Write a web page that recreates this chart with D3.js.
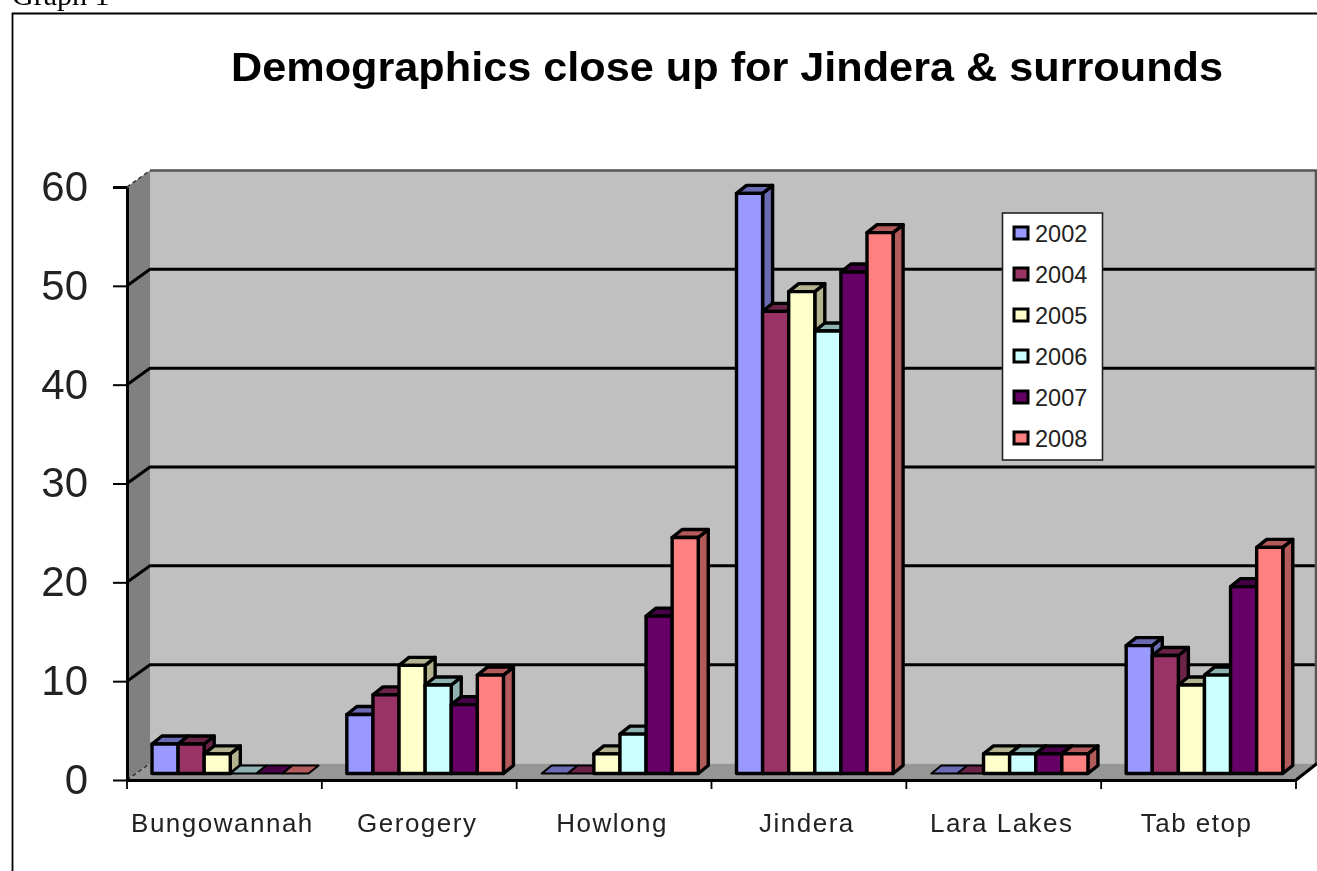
<!DOCTYPE html>
<html>
<head>
<meta charset="utf-8">
<style>
  html, body { margin: 0; padding: 0; background: #fff; overflow: hidden; }
  svg { display: block; font-family: "Liberation Sans", Arial, sans-serif; filter: blur(0.5px); }
</style>
</head>
<body>
<svg id="chart" width="1317" height="871"></svg>
<script src="https://cdn.jsdelivr.net/npm/d3@7"></script>
<script>
const categories = ["Bungowannah", "Gerogery", "Howlong", "Jindera", "Lara Lakes", "Tab etop"];
const years = ["2002", "2004", "2005", "2006", "2007", "2008"];
const colors = ["#9999ff", "#993366", "#ffffcc", "#ccffff", "#660066", "#ff8080"];
const yTicks = [0, 10, 20, 30, 40, 50, 60];

const values2002 = [3, 6, 0, 59, 0, 13];
const values2004 = [3, 8, 0, 47, 0, 12];
const values2005 = [2, 11, 2, 49, 2, 9];
const values2006 = [0, 9, 4, 45, 2, 10];
const values2007 = [0, 7, 16, 51, 2, 19];
const values2008 = [0, 10, 24, 55, 2, 23];
const seriesValues = [values2002, values2004, values2005, values2006, values2007, values2008];

const svg = d3.select("#chart");

// front plane of the 3d box, the back wall is shifted by wallDx/wallDy
const wallDx = 23, wallDy = -16.5;
const barDx = 10, barDy = -8;
const barBase = 773.5;

const x = d3.scaleBand().domain(categories).range([127, 1296]);
const y = d3.scaleLinear().domain([0, 60]).range([780, 187]);
const barH = d3.scaleLinear().domain([0, 60]).range([0, 590]);
const inner = d3.scaleBand().domain(years).range([25, 25 + 6 * 26.1]);

const outline = (sel) => sel.attr("stroke", "#000").attr("stroke-width", 3.4).attr("stroke-linejoin", "round");
const poly = (pts) => "M" + pts.map((p) => p.join(",")).join("L") + "Z";

// chart frame (only left and top show, the rest is cropped) and the caption above it
svg.append("text")
  .attr("x", 12).attr("y", 5)
  .attr("font-family", "'Liberation Serif', serif")
  .attr("font-size", 30)
  .text("Graph 1");
svg.append("path")
  .attr("fill", "none").attr("stroke", "#000").attr("stroke-width", 1.8)
  .attr("d", "M12.5,871V13.5H1317");

svg.append("text")
  .attr("x", 231).attr("y", 81)
  .attr("font-weight", "bold")
  .attr("font-size", 40)
  .attr("textLength", 992)
  .attr("lengthAdjust", "spacingAndGlyphs")
  .attr("fill", "#000")
  .text("Demographics close up for Jindera & surrounds");

// walls
const y0 = y(0), yTop = y(60);
svg.append("path")
  .attr("fill", "#c0c0c0")
  .attr("d", poly([[127 + wallDx, yTop + wallDy], [1316, yTop + wallDy], [1316, y0 + wallDy], [127 + wallDx, y0 + wallDy]]));
svg.append("path")
  .attr("fill", "#808080")
  .attr("d", poly([[127, yTop], [127 + wallDx, yTop + wallDy], [127 + wallDx, y0 + wallDy], [127, y0]]));
svg.append("path")
  .attr("fill", "#969696")
  .attr("d", poly([[127, y0], [127 + wallDx, y0 + wallDy], [1317, y0 + wallDy], [1296, y0]]));

// gridlines run over the left wall and along the back wall
svg.append("g").selectAll("path")
  .data(yTicks.filter((d) => d > 0 && d < 60))
  .join("path")
  .attr("fill", "none")
  .attr("stroke", "#000")
  .attr("stroke-width", 3)
  .attr("d", (d) => `M127,${y(d)}L${127 + wallDx},${y(d) + wallDy}L1317,${y(d) + wallDy}`);
svg.append("path")
  .attr("fill", "none").attr("stroke", "#555").attr("stroke-width", 2.5)
  .attr("d", `M${127 + wallDx},${yTop + wallDy}H1316V${y0 + wallDy}`);
svg.append("path")
  .attr("fill", "none").attr("stroke", "#333").attr("stroke-width", 1.5).attr("stroke-dasharray", "4,3")
  .attr("d", `M127,${yTop}L${127 + wallDx},${yTop + wallDy}M127,${y0}L${127 + wallDx},${y0 + wallDy}`);
svg.append("path")
  .attr("fill", "none").attr("stroke", "#000").attr("stroke-width", 3)
  .attr("d", `M1296,${y0}L1317,${y0 + wallDy}`);

// bars, one cluster at a time so later bars cover the side of earlier ones
const clusters = svg.append("g").selectAll("g")
  .data(categories)
  .join("g")
  .attr("transform", (c) => `translate(${x(c)},0)`);

clusters.each(function (c, ci) {
  const g = d3.select(this);
  years.forEach((yr, si) => {
    const v = seriesValues[si][ci];
    const left = inner(yr), right = left + inner.bandwidth();
    const top = barBase - barH(v);
    const base = d3.color(colors[si]);
    const dark = base.darker(1).formatHex();
    if (v > 0) {
      g.append("path").attr("fill", dark).call(outline)
        .attr("d", poly([[right, top], [right + barDx, top + barDy], [right + barDx, barBase + barDy], [right, barBase]]));
    }
    g.append("path").attr("fill", dark).call(outline)
      .attr("stroke-width", v > 0 ? 3.4 : 2)
      .attr("d", poly([[left, top], [left + barDx, top + barDy], [right + barDx, top + barDy], [right, top]]));
    if (v > 0) {
      g.append("path").attr("fill", colors[si]).call(outline)
        .attr("d", poly([[left, top], [right, top], [right, barBase], [left, barBase]]));
    }
  });
});

// axes
const yAxis = d3.axisLeft(y).tickValues(yTicks).tickSize(14).tickPadding(25).tickSizeOuter(0);
const gy = svg.append("g").attr("transform", "translate(127,0)").call(yAxis);
gy.select(".domain").attr("stroke", "#000").attr("stroke-width", 3);
gy.selectAll("line").attr("stroke", "#000").attr("stroke-width", (d) => (d === 60 ? 3 : 2));
gy.selectAll("text").attr("font-family", "'Liberation Sans', sans-serif").attr("font-size", 42).attr("fill", "#222");

const xAxis = d3.axisBottom(x).tickSize(0).tickPadding(34).tickSizeOuter(0);
const gx = svg.append("g").attr("transform", `translate(0,${y0})`).call(xAxis);
gx.select(".domain").attr("stroke", "#000").attr("stroke-width", 3);
gx.selectAll("text")
  .attr("font-family", "'Liberation Sans', sans-serif")
  .attr("font-size", 26)
  .attr("letter-spacing", 1.5)
  .attr("dx", -2)
  .attr("fill", "#222");

svg.append("g").selectAll("line")
  .data(d3.range(categories.length + 1))
  .join("line")
  .attr("x1", (i) => 127 + i * x.step()).attr("x2", (i) => 127 + i * x.step())
  .attr("y1", y0).attr("y2", y0 + 9)
  .attr("stroke", "#000").attr("stroke-width", 1.8);

// legend
const legend = svg.append("g");
legend.append("rect")
  .attr("x", 1002.5).attr("y", 213)
  .attr("width", 100).attr("height", 247)
  .attr("fill", "#fff").attr("stroke", "#222").attr("stroke-width", 1.6);
const legendY = d3.scalePoint().domain(years).range([233, 438]);
legend.selectAll("rect.key")
  .data(years)
  .join("rect")
  .attr("class", "key")
  .attr("x", 1014).attr("y", (d) => legendY(d) - 6)
  .attr("width", 14).attr("height", 12)
  .attr("fill", (d, i) => colors[i])
  .attr("stroke", "#000").attr("stroke-width", 3);
legend.selectAll("text")
  .data(years)
  .join("text")
  .attr("x", 1035).attr("y", (d) => legendY(d) + 9)
  .attr("font-size", 23.5)
  .attr("fill", "#222")
  .text((d) => d);
</script>
</body>
</html>
